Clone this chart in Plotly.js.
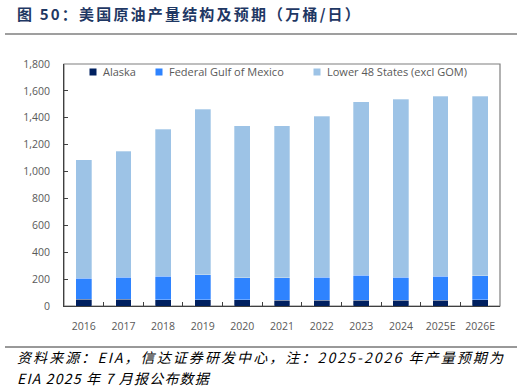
<!DOCTYPE html>
<html>
<head>
<meta charset="utf-8">
<script src="https://cdn.plot.ly/plotly-3.0.1.min.js"></script>
<style>
html,body{margin:0;padding:0;background:#fff;}
#chart{width:526px;height:392px;}
</style>
</head>
<body>
<div id="chart"></div>
<script>
const years = ['2016','2017','2018','2019','2020','2021','2022','2023','2024','2025E','2026E'];
const alaska = [49, 49, 48, 47, 45, 44, 44, 43, 42, 43, 46];
const gulfOfMexico = [157, 166, 175, 185, 165, 166, 171, 185, 173, 180, 179];
const lower48 = [880, 936, 1093, 1230, 1131, 1131, 1198, 1292, 1324, 1336, 1336];
const seriesNames = ['Alaska', 'Federal Gulf of Mexico', 'Lower 48 States (excl GOM)'];
const seriesColors = ['#002060', '#2E83FF', '#9DC3E6'];
const yTickVals = [0, 200, 400, 600, 800, 1000, 1200, 1400, 1600, 1800];

const seriesData = [alaska, gulfOfMexico, lower48];
const traces = [];
seriesData.forEach((vals, i) => {
  traces.push({
    type: 'bar', x: years, y: vals, name: seriesNames[i], showlegend: false,
    marker: {color: seriesColors[i], line: {color: 'rgba(255,255,255,0.5)', width: 0.6}},
    hoverinfo: 'x+y+name'
  });
});
// legend entries (small square swatches)
const legendIds = ['legend', 'legend2', 'legend3'];
seriesNames.forEach((n, i) => {
  traces.push({
    type: 'scatter', mode: 'markers', x: [null], y: [null], name: n,
    marker: {symbol: 'square', size: 7, color: seriesColors[i]},
    legend: legendIds[i], showlegend: true, hoverinfo: 'skip'
  });
});

const W = 436, H = 242, L = 64, T = 64;
const px = v => (v - L) / W;
const py = v => (T + H - v) / H;
const legFont = {family: 'Open Sans, sans-serif', size: 11, color: '#595959'};
const legBase = {orientation: 'h', xanchor: 'left', yanchor: 'middle', y: py(72), bgcolor: 'rgba(0,0,0,0)', font: legFont, itemwidth: 30};

const layout = {
  width: 526, height: 392,
  margin: {l: L, r: 26, t: T, b: 86},
  paper_bgcolor: '#fff', plot_bgcolor: '#fff',
  barmode: 'stack', bargap: 0.6,
  font: {family: 'Open Sans, sans-serif', color: '#595959'},
  title: {
    text: '图 50：美国原油产量结构及预期（万桶/日）',
    font: {family: 'Noto Sans CJK SC, sans-serif', size: 15, color: '#1F3864', weight: 'bold'},
    xref: 'container', yref: 'container', x: 17/526, xanchor: 'left', y: 1 - 15/392, yanchor: 'middle'
  },
  xaxis: {
    type: 'category', showline: true, linecolor: '#404040', linewidth: 1,
    ticks: 'inside', tickson: 'boundaries', ticklen: 4, tickcolor: '#404040',
    tickfont: {family: 'Open Sans, sans-serif', size: 10.5, color: '#595959'},
    ticklabelstandoff: 10, showgrid: false, zeroline: false, fixedrange: true
  },
  yaxis: {
    range: [0, 1800], tickvals: yTickVals, tickformat: ',d',
    showline: true, linecolor: '#404040', linewidth: 1,
    ticks: 'inside', ticklen: 4, tickcolor: '#404040',
    tickfont: {family: 'Open Sans, sans-serif', size: 10.5, color: '#595959'},
    ticklabelstandoff: 11, showgrid: false, zeroline: false, fixedrange: true
  },
  legend: Object.assign({}, legBase, {x: px(63)}),
  legend2: Object.assign({}, legBase, {x: px(129)}),
  legend3: Object.assign({}, legBase, {x: px(287)}),
  shapes: [
    {type: 'rect', xref: 'paper', yref: 'paper', x0: 0, x1: 1, y0: 0, y1: 1, line: {color: '#7F7F7F', width: 1.2}, layer: 'below'},
    {type: 'line', xref: 'paper', yref: 'paper', x0: px(5), x1: px(517), y0: py(34), y1: py(34), line: {color: '#7F7F7F', width: 1.5}},
    {type: 'line', xref: 'paper', yref: 'paper', x0: px(5), x1: px(517), y0: py(347), y1: py(347), line: {color: '#333333', width: 1}}
  ],
  annotations: [
    {xref: 'paper', yref: 'paper', x: px(17), y: py(357), xanchor: 'left', yanchor: 'middle', showarrow: false,
     text: '<i>资料来源：EIA，信达证券研发中心，注：2025-2026 年产量预期为</i>',
     font: {family: 'Noto Sans CJK SC, sans-serif', size: 14, color: '#000'}},
    {xref: 'paper', yref: 'paper', x: px(17), y: py(378), xanchor: 'left', yanchor: 'middle', showarrow: false,
     text: '<i>EIA 2025 年 7 月报公布数据</i>',
     font: {family: 'Noto Sans CJK SC, sans-serif', size: 14, color: '#000'}}
  ]
};

// stretch a text element to span [left, right] (page px) by letter spacing
function fitText(el, left, right) {
  if (!el) return;
  el.style.letterSpacing = '0px';
  const r0 = el.getBoundingClientRect();
  const n = el.textContent.length;
  const ls = Math.max(0, (right - left - r0.width) / n);
  el.style.letterSpacing = ls + 'px';
  const r1 = el.getBoundingClientRect();
  const dx = left - r1.left;
  const t = el.getAttribute('transform') || '';
  el.setAttribute('transform', t + ' translate(' + dx + ',0)');
}

Plotly.newPlot('chart', traces, layout, {displayModeBar: false, staticPlot: true}).then(gd => {
  fitText(gd.querySelector('.gtitle'), 17, 362);
  const ann = gd.querySelectorAll('.annotation-text');
  fitText(ann[0], 17, 506);
  fitText(ann[1], 17, 212);
  gd.querySelectorAll('.legendpoints').forEach(g => {
    const t = g.getAttribute('transform') || '';
    g.setAttribute('transform', t + ' translate(10,0)');
  });
});
</script>
</body>
</html>
